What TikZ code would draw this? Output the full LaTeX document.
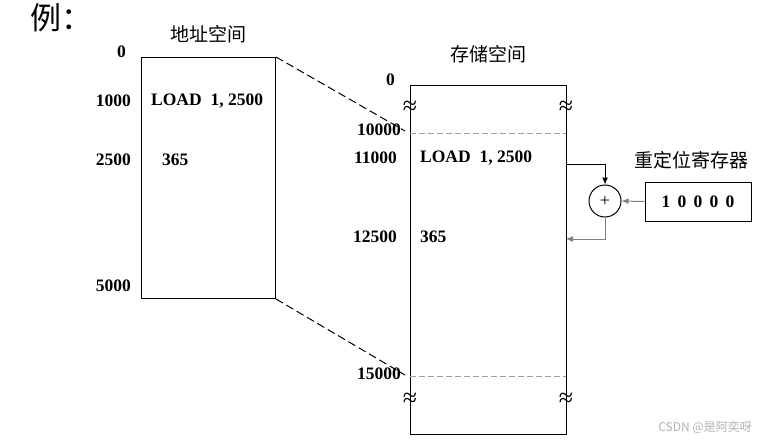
\documentclass[tikz,border=0pt]{standalone}
\usepackage{fontspec}
\setmainfont{Liberation Serif}
\newfontfamily\cjk{Noto Sans CJK SC}
\usetikzlibrary{arrows.meta}
\begin{document}
\begin{tikzpicture}[x=1pt,y=-1pt,
  num/.style={font=\fontsize{17.5}{19}\selectfont\bfseries, inner sep=0pt},
  title/.style={font=\fontsize{19}{21}\selectfont\cjk, inner sep=0pt},
  wave/.style={font=\fontsize{26}{28}\selectfont, inner sep=0pt},
  box/.style={draw, line width=1pt, inner sep=0pt},
  ln/.style={line width=1pt},
  tip/.style={-{Latex[length=7pt,width=6pt]}}]
\useasboundingbox (0,0) rectangle (762,441);
% title
\node (ex) [font=\fontsize{31}{33}\selectfont\cjk, inner sep=0pt, anchor=west] at (30,18) {例：};
% address space
\node (addrt) [title] at (208,34) {地址空间};
\node (addr) [box, minimum width=134pt, minimum height=241pt, anchor=north west] at (141,57) {};
\node (a0) [num, anchor=east] at (126,52) {0};
\node (a1) [num, anchor=east] at (131,101) {1000};
\node (a2) [num, anchor=east] at (131,160) {2500};
\node (a3) [num, anchor=east] at (131,286) {5000};
\node (aload) [num, anchor=west] at (151,101) {LOAD\ \ 1, 2500};
\node (a365) [num, anchor=west] at (162,160) {365};
% memory space
\node (memt) [title] at (488,54) {存储空间};
\node (mem) [box, minimum width=156pt, minimum height=349pt, anchor=north west] at (410,85) {};
\node (m0) [num, anchor=east] at (395,80) {0};
\node (m1) [num, anchor=east] at (401,130) {10000};
\node (m2) [num, anchor=east] at (397,158) {11000};
\node (m3) [num, anchor=east] at (397,237) {12500};
\node (m4) [num, anchor=east] at (401,374) {15000};
\node (mload) [num, anchor=west] at (420,158) {LOAD\ \ 1, 2500};
\node (m365) [num, anchor=west] at (420,237) {365};
\draw[ln, gray!75, dash pattern=on 6pt off 3pt] (410,133) -- (566,133);
\draw[ln, gray!75, dash pattern=on 6pt off 3pt] (410,376) -- (566,376);
\node (w1) [wave] at (410,108) {≈};
\node (w2) [wave] at (566,108) {≈};
\node (w3) [wave] at (410,400) {≈};
\node (w4) [wave] at (566,400) {≈};
% mapping lines
\coordinate (e1) at (405,131);
\coordinate (e2) at (405,375);
\draw[ln, dash pattern=on 8pt off 4pt] (addr.north east) -- (e1);
\draw[ln, dash pattern=on 8pt off 4pt] (addr.south east) -- (e2);
% relocation
\node (sum) [circle, draw, line width=1pt, minimum size=32pt, inner sep=0pt, font=\fontsize{18}{20}\selectfont] at (605,201) {+};
\node (regt) [title] at (691,160) {重定位寄存器};
\node (reg) [box, minimum width=106pt, minimum height=39pt, font=\fontsize{17.5}{19}\selectfont\bfseries] at (698,201.5) {1\,\ 0\,\ 0\,\ 0\,\ 0};
\coordinate (o1) at (566,164);
\coordinate (o2) at (566,239);
\draw[ln, tip] (o1) -| (sum.north);
\draw[ln, black!50, tip] (reg.west) -- (sum.east);
\draw[ln, black!50, tip] (sum.south) |- (o2);
% watermark
\node (wm) [font=\fontsize{12}{14}\selectfont\cjk, text=gray!60, inner sep=0pt, anchor=east] at (752,427) {CSDN @是阿奕呀};
\end{tikzpicture}
\end{document}
